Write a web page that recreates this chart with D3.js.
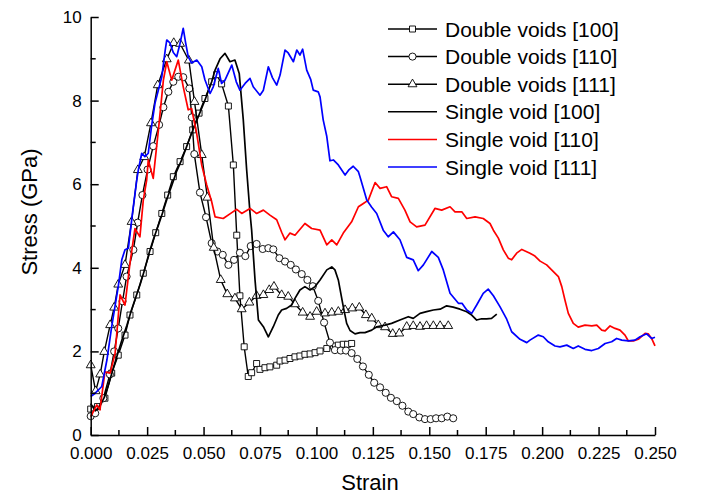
<!DOCTYPE html>
<html>
<head>
<meta charset="utf-8">
<script src="https://cdn.jsdelivr.net/npm/d3@7"></script>
<style>
  body { margin: 0; background: #fff; }
  svg { font-family: "Liberation Sans", Arial, sans-serif; }
</style>
</head>
<body>
<svg id="chart" width="707" height="496"></svg>
<script>
// strain / stress (GPa) pairs
var dv100 = [[0,0.62],[0.003,0.68],[0.0063,0.88],[0.0093,1.48],[0.0122,1.91],[0.0152,2.39],[0.0174,2.87],[0.0204,3.35],[0.0233,3.87],[0.0263,4.39],[0.0288,4.84],[0.0315,5.3],[0.0341,5.74],[0.0366,6.18],[0.0396,6.54],[0.0425,6.9],[0.0452,7.3],[0.048,7.7],[0.0506,8.05],[0.0536,8.45],[0.0558,8.62],[0.058,8.4],[0.061,7.87],[0.0632,6.46],[0.0647,4.78],[0.0661,3.33],[0.068,2.11],[0.0698,1.4],[0.0713,1.49],[0.0735,1.71],[0.075,1.57],[0.0772,1.61],[0.0794,1.63],[0.0824,1.67],[0.0839,1.77],[0.0861,1.79],[0.0883,1.83],[0.0905,1.87],[0.0927,1.89],[0.0949,1.93],[0.0972,1.94],[0.0994,1.97],[0.1016,2.01],[0.1046,2.07],[0.1075,2.13],[0.1097,2.15],[0.1119,2.17],[0.1138,2.17],[0.1156,2.19]];

var dv110 = [[0,0.45],[0.002,0.52],[0.0056,0.88],[0.0085,1.45],[0.0104,2.0],[0.0122,2.55],[0.0141,3.2],[0.0159,3.79],[0.0189,4.43],[0.0208,5.08],[0.0229,5.74],[0.0252,6.35],[0.0277,6.91],[0.0303,7.42],[0.0322,7.84],[0.0344,8.21],[0.0366,8.45],[0.0388,8.57],[0.041,8.56],[0.0437,8.29],[0.0448,7.6],[0.0459,6.72],[0.0484,5.8],[0.0511,5.21],[0.0536,4.59],[0.0561,4.39],[0.0585,4.31],[0.061,4.07],[0.0635,4.19],[0.0661,4.36],[0.0685,4.28],[0.0709,4.52],[0.0735,4.57],[0.0762,4.45],[0.0787,4.47],[0.0809,4.44],[0.0836,4.23],[0.0861,4.15],[0.0886,4.07],[0.0909,3.96],[0.0935,3.85],[0.096,3.71],[0.0984,3.56],[0.1008,3.21],[0.1034,2.69],[0.106,2.21],[0.1082,2.03],[0.1108,2.02],[0.1131,2.02],[0.1156,1.96],[0.1181,1.82],[0.1206,1.64],[0.1232,1.44],[0.1256,1.25],[0.1282,1.14],[0.1307,1.01],[0.133,0.89],[0.1356,0.81],[0.1381,0.7],[0.1407,0.56],[0.1429,0.5],[0.1456,0.42],[0.1481,0.38],[0.1506,0.38],[0.153,0.4],[0.1555,0.4],[0.158,0.44],[0.1606,0.4]];

var dv111 = [[0,1.67],[0.0022,1.05],[0.0042,1.45],[0.006,1.99],[0.0086,2.63],[0.0104,3.05],[0.0122,3.6],[0.0152,4.07],[0.0181,5.1],[0.0209,6.34],[0.0237,6.65],[0.0267,7.46],[0.0297,8.37],[0.0337,8.99],[0.0368,9.38],[0.0396,9.36],[0.0435,8.96],[0.046,7.97],[0.0492,6.7],[0.0517,5.68],[0.0545,4.48],[0.0576,3.71],[0.0605,3.37],[0.0639,3.27],[0.0669,3.01],[0.0703,3.17],[0.0735,3.33],[0.0765,3.35],[0.0791,3.47],[0.0812,3.55],[0.0846,3.35],[0.0875,3.31],[0.0905,3.13],[0.0939,2.93],[0.0972,2.83],[0.1001,2.95],[0.1038,2.91],[0.1068,2.93],[0.1097,2.95],[0.1127,2.99],[0.1159,3.03],[0.119,3.05],[0.1219,2.87],[0.1245,2.79],[0.1274,2.63],[0.1304,2.58],[0.1338,2.42],[0.1367,2.43],[0.14,2.59],[0.1429,2.61],[0.1459,2.59],[0.1488,2.61],[0.1518,2.61],[0.1548,2.61],[0.1584,2.61]];

var sv100 = [[0,0.75],[0.002,0.58],[0.004,0.68],[0.006,0.9],[0.008,1.22],[0.01,1.6],[0.012,1.95],[0.014,2.3],[0.016,2.62],[0.018,2.98],[0.02,3.3],[0.022,3.62],[0.024,3.98],[0.026,4.38],[0.028,4.72],[0.03,5.02],[0.032,5.34],[0.034,5.68],[0.036,5.98],[0.038,6.3],[0.0403,6.58],[0.0425,6.9],[0.0447,7.22],[0.0477,7.62],[0.0506,8.01],[0.0536,8.45],[0.0551,8.73],[0.0573,9.0],[0.0595,9.13],[0.0617,8.93],[0.0639,8.97],[0.0658,8.65],[0.0676,7.54],[0.0691,6.34],[0.0706,5.3],[0.0713,4.9],[0.0728,3.71],[0.0743,2.75],[0.0765,2.59],[0.0787,2.35],[0.0809,2.59],[0.0831,2.87],[0.0846,2.99],[0.0868,3.03],[0.089,3.11],[0.0905,3.27],[0.0927,3.47],[0.0949,3.55],[0.0972,3.47],[0.0994,3.55],[0.1016,3.71],[0.1046,3.95],[0.1068,4.02],[0.1082,3.95],[0.1097,3.71],[0.1119,3.07],[0.1134,2.67],[0.1149,2.5],[0.1171,2.42],[0.1193,2.45],[0.1215,2.45],[0.1245,2.51],[0.1267,2.59],[0.1304,2.63],[0.1333,2.67],[0.137,2.75],[0.1407,2.83],[0.1429,2.79],[0.1459,2.91],[0.1488,2.95],[0.1518,2.99],[0.1548,3.01],[0.1577,3.09],[0.1606,3.06],[0.1636,3.01],[0.1666,2.95],[0.1688,2.87],[0.171,2.75],[0.1732,2.78],[0.1754,2.78],[0.1776,2.79],[0.1799,2.89]];

var sv110 = [[0,0.44],[0.0027,0.72],[0.0041,0.6],[0.0063,1.51],[0.0086,1.48],[0.0108,1.95],[0.013,3.35],[0.0152,3.11],[0.0174,4.11],[0.0196,4.94],[0.0218,4.74],[0.0233,5.62],[0.0248,6.1],[0.0255,6.58],[0.0277,6.14],[0.03,7.3],[0.0322,8.49],[0.0337,8.93],[0.0359,8.49],[0.0388,8.97],[0.041,8.33],[0.0432,7.78],[0.0447,7.81],[0.047,7.2],[0.0492,6.45],[0.0514,5.98],[0.0536,5.58],[0.0551,5.22],[0.0587,5.18],[0.0625,5.32],[0.0647,5.4],[0.0669,5.3],[0.0706,5.42],[0.0735,5.3],[0.0765,5.38],[0.0794,5.26],[0.0824,5.15],[0.0846,4.85],[0.0861,4.67],[0.0883,4.83],[0.0905,4.78],[0.0949,5.06],[0.0979,4.94],[0.1016,4.9],[0.1046,4.55],[0.1068,4.67],[0.109,4.55],[0.1119,4.83],[0.1156,5.1],[0.1186,5.46],[0.1208,5.54],[0.123,5.62],[0.126,6.04],[0.1282,5.9],[0.1311,5.94],[0.1333,5.7],[0.1363,5.66],[0.1392,5.38],[0.1415,5.1],[0.1444,4.98],[0.1481,5.02],[0.1525,5.42],[0.1555,5.38],[0.1592,5.46],[0.1614,5.34],[0.1644,5.34],[0.1666,5.18],[0.1703,5.22],[0.1739,5.18],[0.1769,5.06],[0.1784,4.9],[0.1806,4.71],[0.1828,4.43],[0.185,4.23],[0.1865,4.19],[0.1887,4.35],[0.191,4.44],[0.1946,4.35],[0.1968,4.28],[0.1991,4.16],[0.202,4.07],[0.2042,3.95],[0.2072,3.79],[0.2087,3.55],[0.2101,3.23],[0.2116,2.91],[0.2138,2.67],[0.216,2.58],[0.219,2.63],[0.222,2.61],[0.2242,2.63],[0.2264,2.51],[0.2279,2.49],[0.2301,2.61],[0.2323,2.55],[0.2345,2.51],[0.2367,2.39],[0.2382,2.25],[0.2404,2.25],[0.2426,2.29],[0.2456,2.43],[0.247,2.42],[0.2485,2.31],[0.25,2.13]];

var sv111 = [[0,0.92],[0.002,1.0],[0.0049,1.16],[0.0072,1.8],[0.0093,2.59],[0.0122,3.55],[0.0138,4.2],[0.0152,4.43],[0.0167,4.47],[0.0185,5.3],[0.0204,6.1],[0.0211,6.34],[0.0226,6.74],[0.024,6.66],[0.0255,6.74],[0.027,7.4],[0.0285,7.94],[0.0315,8.57],[0.033,9.2],[0.0337,9.45],[0.0351,9.38],[0.0366,9.15],[0.0381,9.05],[0.0395,9.35],[0.041,9.73],[0.042,9.4],[0.0432,9.05],[0.0447,8.9],[0.047,8.97],[0.0492,8.81],[0.0506,8.5],[0.0529,8.17],[0.0543,8.33],[0.0565,8.77],[0.058,8.41],[0.0595,8.49],[0.0625,8.85],[0.0645,8.45],[0.0661,8.25],[0.0684,8.41],[0.0706,8.53],[0.072,8.33],[0.075,8.13],[0.0765,8.25],[0.0787,8.81],[0.0805,8.55],[0.0824,8.37],[0.0839,8.61],[0.0861,9.21],[0.0875,9.14],[0.0898,8.93],[0.0913,9.21],[0.0927,9.09],[0.0939,9.23],[0.0957,8.73],[0.0975,8.5],[0.0986,8.25],[0.1008,8.21],[0.1016,8.09],[0.103,7.54],[0.1046,7.14],[0.106,6.56],[0.1075,6.58],[0.1097,6.46],[0.1127,6.22],[0.1145,6.35],[0.1163,6.43],[0.1186,6.3],[0.1193,6.18],[0.1223,5.62],[0.1245,5.45],[0.1267,5.3],[0.1296,4.9],[0.1318,4.74],[0.1341,4.86],[0.137,4.67],[0.14,4.25],[0.1429,4.19],[0.1451,3.93],[0.1474,4.07],[0.1511,4.39],[0.154,4.25],[0.1562,3.95],[0.1592,3.39],[0.1629,3.15],[0.1645,3.15],[0.1666,2.99],[0.1688,2.91],[0.171,3.11],[0.1739,3.39],[0.1761,3.49],[0.1784,3.33],[0.1813,3.07],[0.1843,2.77],[0.1865,2.47],[0.1902,2.29],[0.1932,2.21],[0.1946,2.27],[0.1983,2.39],[0.2005,2.35],[0.2027,2.23],[0.2057,2.13],[0.2079,2.11],[0.2109,2.15],[0.2138,2.07],[0.216,2.13],[0.219,2.05],[0.222,2.02],[0.2249,2.07],[0.2279,2.19],[0.2308,2.23],[0.233,2.31],[0.2353,2.27],[0.2382,2.25],[0.2411,2.27],[0.2434,2.35],[0.2463,2.42],[0.2485,2.31],[0.25,2.34]];

var seriesNames = ["Double voids [100]", "Double voids [110]", "Double voids [111]",
                   "Single void [100]", "Single void [110]", "Single void [111]"];
var xTicks = [0, 0.025, 0.05, 0.075, 0.1, 0.125, 0.15, 0.175, 0.2, 0.225, 0.25];
var yTicks = [0, 2, 4, 6, 8, 10];

var series = [
  { name: seriesNames[0], data: dv100, color: "#000", marker: "square" },
  { name: seriesNames[1], data: dv110, color: "#000", marker: "circle" },
  { name: seriesNames[2], data: dv111, color: "#000", marker: "triangle" },
  { name: seriesNames[3], data: sv100, color: "#000", marker: null },
  { name: seriesNames[4], data: sv110, color: "#ff0000", marker: null },
  { name: seriesNames[5], data: sv111, color: "#0000ff", marker: null }
];

var svg = d3.select("#chart");

var x = d3.scaleLinear().domain([0, 0.25]).range([90.7, 655]);
var y = d3.scaleLinear().domain([0, 10]).range([435, 17]);

var line = d3.line()
  .x(function (d) { return x(d[0]); })
  .y(function (d) { return y(d[1]); });

var symbolFor = {
  square: d3.symbol().type(d3.symbolSquare).size(36),
  circle: d3.symbol().type(d3.symbolCircle).size(40),
  triangle: d3.symbol().type(d3.symbolTriangle).size(34)
};

var plot = svg.append("g");

series.forEach(function (s) {
  plot.append("path")
    .datum(s.data)
    .attr("d", line)
    .attr("fill", "none")
    .attr("stroke", s.color)
    .attr("stroke-width", s.marker ? 1.4 : 1.7)
    .attr("stroke-linejoin", "round");

  if (s.marker) {
    plot.append("g").selectAll("path")
      .data(s.data)
      .enter().append("path")
      .attr("transform", function (d) { return "translate(" + x(d[0]) + "," + y(d[1]) + ")"; })
      .attr("d", symbolFor[s.marker])
      .attr("fill", "#fff")
      .attr("stroke", "#000")
      .attr("stroke-width", 0.9);
  }
});

// axes (ticks point inward)
var xAxis = svg.append("g")
  .attr("transform", "translate(0,435)")
  .call(d3.axisBottom(x).tickValues(xTicks).tickFormat(d3.format(".3f"))
    .tickSizeInner(-8).tickSizeOuter(0).tickPadding(12));

var yAxis = svg.append("g")
  .attr("transform", "translate(90.7,0)")
  .call(d3.axisLeft(y).tickValues(yTicks).tickFormat(d3.format("d"))
    .tickSizeInner(-8).tickSizeOuter(0).tickPadding(9));

// minor ticks
var xMinor = d3.range(0.0125, 0.25, 0.025);
var yMinor = d3.range(1, 10, 2);
xAxis.selectAll(".minor").data(xMinor).enter().append("line")
  .attr("x1", function (d) { return x(d); }).attr("x2", function (d) { return x(d); })
  .attr("y1", 0).attr("y2", -5)
  .attr("stroke", "#000").attr("stroke-width", 1.5);
yAxis.selectAll(".minor").data(yMinor).enter().append("line")
  .attr("y1", function (d) { return y(d); }).attr("y2", function (d) { return y(d); })
  .attr("x1", 0).attr("x2", 5)
  .attr("stroke", "#000").attr("stroke-width", 1.5);

[xAxis, yAxis].forEach(function (a) {
  a.select(".domain").attr("stroke-width", 1.5);
  a.selectAll(".tick line").attr("stroke-width", 1.5);
  a.selectAll(".tick text").attr("font-size", "17px").attr("fill", "#000")
    .attr("font-family", "'Liberation Sans', Arial, sans-serif");
});

svg.append("text")
  .attr("x", 370).attr("y", 490)
  .attr("text-anchor", "middle")
  .attr("font-size", "22px")
  .text("Strain");

svg.append("text")
  .attr("transform", "translate(37,212) rotate(-90)")
  .attr("text-anchor", "middle")
  .attr("font-size", "22px")
  .text("Stress (GPa)");

// legend
var legend = svg.append("g");
series.forEach(function (s, i) {
  var cy = 29 + i * 27.6;
  legend.append("line")
    .attr("x1", 388).attr("x2", 437)
    .attr("y1", cy).attr("y2", cy)
    .attr("stroke", s.color).attr("stroke-width", 1.5);
  if (s.marker) {
    legend.append("path")
      .attr("transform", "translate(412.5," + cy + ")")
      .attr("d", symbolFor[s.marker])
      .attr("fill", "#fff").attr("stroke", "#000").attr("stroke-width", 0.9);
  }
  legend.append("text")
    .attr("x", 445).attr("y", cy + 7.5)
    .attr("font-size", "21px")
    .text(s.name);
});
</script>
</body>
</html>
